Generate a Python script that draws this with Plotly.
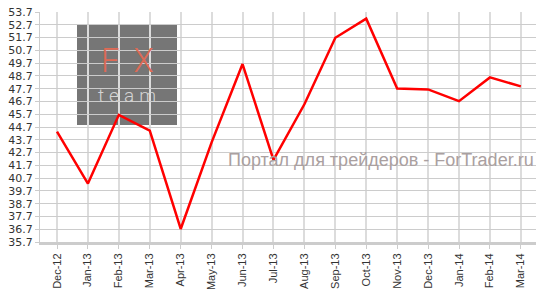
import plotly.graph_objects as go

months = ["Dec-12", "Jan-13", "Feb-13", "Mar-13", "Apr-13", "May-13", "Jun-13", "Jul-13",
          "Aug-13", "Sep-13", "Oct-13", "Nov-13", "Dec-13", "Jan-14", "Feb-14", "Mar-14"]
values = [44.33, 40.27, 45.65, 44.42, 36.72, 43.5, 49.63, 42.12,
          46.48, 51.68, 53.18, 47.71, 47.64, 46.72, 48.58, 47.88]
y_ticks = [35.7 + i for i in range(19)]
y_labels = ["%.1f" % v for v in y_ticks]
watermark = "Портал для трейдеров - ForTrader.ru"
logo_top = "FX"
logo_bottom = "team"

fig = go.Figure()
fig.add_trace(go.Scatter(x=months, y=values, mode="lines",
                         line=dict(color="#ff0000", width=2.5), hoverinfo="skip"))

W, H = 542, 298
L, R, T, B = 40, 6, 10, 56
pw, ph = W - L - R, H - T - B

def px(x):
    return (x - L) / pw

def py(y):
    return (H - B - y) / ph

fig.add_shape(type="rect", xref="paper", yref="paper", layer="below",
              x0=px(77), x1=px(177), y0=py(124), y1=py(23),
              fillcolor="#767676", line=dict(width=0))

fig.add_annotation(text="<span style='letter-spacing:14px'>%s</span>" % logo_top,
                   xref="paper", yref="paper", x=px(134), y=py(81),
                   xanchor="center", yanchor="bottom", showarrow=False,
                   font=dict(family="Roboto", size=33, color="#de6a55", weight=300))
fig.add_annotation(text="<span style='letter-spacing:5px'>%s</span>" % logo_bottom,
                   xref="paper", yref="paper", x=px(129), y=py(81),
                   xanchor="center", yanchor="top", showarrow=False,
                   font=dict(family="Roboto", size=19, color="#d4d4d4", weight=300))
fig.add_annotation(text=watermark, xref="paper", yref="paper", x=1.0, y=py(159),
                   xanchor="right", yanchor="middle", showarrow=False,
                   font=dict(family="Liberation Sans", size=18, color="#aaa0a0"))

fig.update_layout(
    width=W, height=H,
    margin=dict(l=L, r=R, t=T, b=B, pad=0),
    paper_bgcolor="white", plot_bgcolor="white",
    showlegend=False,
    xaxis=dict(type="category", range=[-0.55, 15.49], showgrid=True,
               gridcolor="#dcdcdc", gridwidth=2, showline=True, linecolor="#cccccc",
               linewidth=3, ticks="outside", ticklen=4, tickcolor="#cccccc",
               tickangle=-90, tickfont=dict(family="Liberation Sans", size=11, color="#333333"),
               fixedrange=True, zeroline=False),
    yaxis=dict(range=[35.7, 53.7], tickmode="array", tickvals=y_ticks, ticktext=y_labels,
               showgrid=True, gridcolor="#cccccc", gridwidth=1, showline=True,
               linecolor="#cccccc", linewidth=1, ticks="outside", ticklen=4,
               tickcolor="#cccccc", tickfont=dict(family="DejaVu Sans", size=11, color="#333333"),
               fixedrange=True, zeroline=False),
)

fig.write_html("out.html", config={"displayModeBar": False})
